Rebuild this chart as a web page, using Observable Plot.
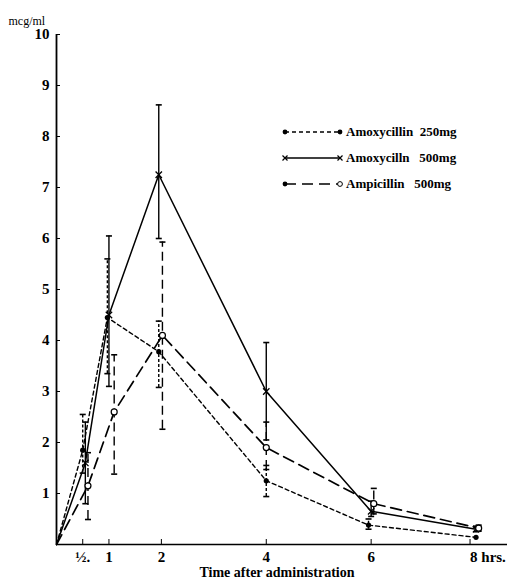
<!DOCTYPE html>
<html>
<head>
<meta charset="utf-8">
<script src="https://cdn.jsdelivr.net/npm/d3@7"></script>
<script src="https://cdn.jsdelivr.net/npm/@observablehq/plot@0.6"></script>
<style>
  html, body { margin: 0; padding: 0; background: #fff; }
  #wrap { position: relative; width: 511px; height: 583px; font-family: "Liberation Serif", "DejaVu Serif", serif; }
  #legend { position: absolute; left: 280px; top: 119px; font-weight: bold; font-size: 13px; color: #000; }
  #legend .row { display: flex; align-items: center; height: 26px; white-space: pre; }
  #legend svg { display: block; margin-right: 2px; }
</style>
</head>
<body>
<div id="wrap"><div id="legend"></div></div>
<script>
// ---- data ----
const seriesNames = ["Amoxycillin  250mg", "Amoxycilln   500mg", "Ampicillin   500mg"];

const amox250Time = [0, 0.5, 0.97, 1.95, 4, 5.95, 8];
const amox250Conc = [0, 1.85, 4.45, 3.78, 1.25, 0.38, 0.14];
const amox250Low  = [null, 1.4, 3.35, 3.08, 0.94, 0.3, null];
const amox250High = [null, 2.55, 5.6, 4.38, 1.55, 0.5, null];

const amox500Time = [0, 0.55, 1.0, 1.95, 4, 6, 8];
const amox500Conc = [0, 1.6, 4.5, 7.25, 3.0, 0.65, 0.3];
const amox500Low  = [null, 0.8, 3.1, 6.0, 2.05, 0.55, 0.25];
const amox500High = [null, 2.4, 6.05, 8.62, 3.96, 0.85, 0.36];

const ampiTime = [0, 0.6, 1.1, 2.02, 4, 6.05, 8.05];
const ampiConc = [0, 1.15, 2.6, 4.1, 1.9, 0.8, 0.32];
const ampiLow  = [null, 0.49, 1.38, 2.26, 1.47, 0.6, 0.26];
const ampiHigh = [null, 1.8, 3.72, 5.93, 2.4, 1.1, 0.38];

const xTicks = [0.5, 1, 2, 4, 6];
const xTickLabels = ["½.", "1", "2", "4", "6"];
const xLastTick = [8];
const xLastTickLabel = "8 hrs.";
const yTicks = [1, 2, 3, 4, 5, 6, 7, 8, 9, 10];

const xTitle = "Time after administration";
const yTitle = "mcg/ml";

// ---- build tables ----
function table(t, c, lo, hi) {
  return t.map((x, i) => ({x, y: c[i], lo: lo[i], hi: hi[i]}));
}
const s250 = table(amox250Time, amox250Conc, amox250Low, amox250High);
const s500 = table(amox500Time, amox500Conc, amox500Low, amox500High);
const sAmp = table(ampiTime, ampiConc, ampiLow, ampiHigh);

const capSymbol = {draw(ctx, size) { const w = Math.sqrt(size) / 2; ctx.moveTo(-w, 0); ctx.lineTo(w, 0); }};

const styles = [
  {data: s250, dash: "4,3", width: 1.4, barDash: "3,2"},
  {data: s500, dash: null, width: 1.5, barDash: null},
  {data: sAmp, dash: "11,6", width: 1.7, barDash: "9,5"}
];

const marks = [];
for (const st of styles) {
  const bars = st.data.filter(d => d.lo != null && d.hi != null);
  marks.push(Plot.ruleX(bars, {x: "x", y1: "lo", y2: "hi", stroke: "black", strokeWidth: 1.4, strokeDasharray: st.barDash}));
  marks.push(Plot.dot(bars, {x: "x", y: "hi", symbol: capSymbol, r: 3.4, stroke: "black", strokeWidth: 1.6, fill: "none"}));
  marks.push(Plot.dot(bars, {x: "x", y: "lo", symbol: capSymbol, r: 3.4, stroke: "black", strokeWidth: 1.6, fill: "none"}));
  marks.push(Plot.line(st.data, {x: "x", y: "y", stroke: "black", strokeWidth: st.width, strokeDasharray: st.dash}));
}
marks.push(Plot.dot(s250.filter(d => d.x > 0), {x: "x", y: "y", r: 2.6, fill: "black", stroke: "none"}));
marks.push(Plot.dot(s500.filter(d => d.x > 0), {x: "x", y: "y", symbol: "times", r: 3, stroke: "black", strokeWidth: 1.3}));
marks.push(Plot.dot(sAmp.filter(d => d.x > 0), {x: "x", y: "y", r: 3, fill: "white", stroke: "black", strokeWidth: 1.2}));

const plot = Plot.plot({
  width: 511,
  height: 583,
  marginLeft: 56,
  marginRight: 4,
  marginTop: 34,
  marginBottom: 39,
  style: {fontFamily: "'Liberation Serif', 'DejaVu Serif', serif", background: "white", color: "black"},
  x: {domain: [0, 8.6]},
  y: {domain: [0, 10]},
  marks: [
    Plot.ruleY([0], {stroke: "black", strokeWidth: 1.6}),
    Plot.ruleX([0], {stroke: "black", strokeWidth: 1.8}),
    Plot.axisY(yTicks, {anchor: "left", tickSize: -4, tickPadding: 11, fontSize: 15, fontWeight: "bold", label: null,
      tickFormat: d => String(d)}),
    Plot.axisX(xTicks, {anchor: "bottom", tickSize: -5, tickPadding: 12, fontSize: 15, fontWeight: "bold", label: null,
      tickFormat: d => xTickLabels[xTicks.indexOf(d)]}),
    Plot.axisX(xLastTick, {anchor: "bottom", tickSize: -5, tickPadding: 12, fontSize: 15, fontWeight: "bold", label: null,
      tickFormat: () => xLastTickLabel, textAnchor: "start", dx: -6}),
    Plot.text([xTitle], {frameAnchor: "bottom", dy: 32, fontSize: 14, fontWeight: "bold", dx: -5}),
    Plot.text([yTitle], {frameAnchor: "top-left", dx: -48, dy: -18, textAnchor: "start", fontSize: 12}),
    ...marks
  ]
});
document.getElementById("wrap").prepend(plot);

// ---- legend ----
const legend = d3.select("#legend");
const legendStyles = [
  {dash: "4,3", start: "dot", end: "dot"},
  {dash: null, start: "times", end: "times"},
  {dash: "11,6", start: "dot", end: "circle"}
];
seriesNames.forEach((name, i) => {
  const ls = legendStyles[i];
  const row = legend.append("div").attr("class", "row");
  const svg = row.append("svg").attr("width", 64).attr("height", 12);
  svg.append("line").attr("x1", 5).attr("x2", 60).attr("y1", 6).attr("y2", 6)
    .attr("stroke", "black").attr("stroke-width", 1.3).attr("stroke-dasharray", ls.dash);
  const marker = (kind, x) => {
    if (kind === "dot") svg.append("circle").attr("cx", x).attr("cy", 6).attr("r", 2.4).attr("fill", "black");
    if (kind === "circle") svg.append("circle").attr("cx", x).attr("cy", 6).attr("r", 2.4).attr("fill", "white").attr("stroke", "black");
    if (kind === "times") svg.append("path").attr("d", `M${x-2.5},3.5L${x+2.5},8.5M${x-2.5},8.5L${x+2.5},3.5`).attr("stroke", "black").attr("stroke-width", 1.2);
  };
  marker(ls.start, 5);
  marker(ls.end, 60);
  row.append("span").text(name);
});
</script>
</body>
</html>
